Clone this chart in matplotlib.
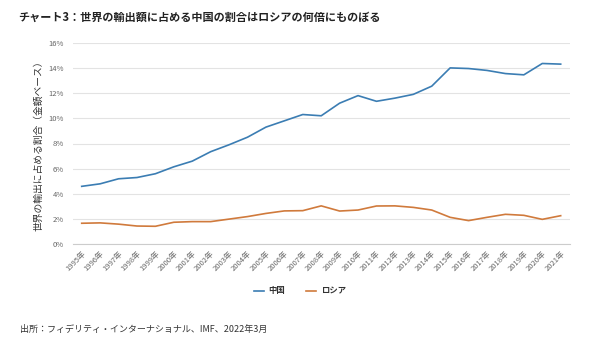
import matplotlib
matplotlib.use('Agg')
import matplotlib.pyplot as plt
import numpy as np

plt.rcParams['font.family'] = ['Noto Sans CJK JP', 'DejaVu Sans']

years = [f'{y}年' for y in range(1995, 2022)]
china = [4.6, 4.8, 5.2, 5.3, 5.6, 6.15, 6.6, 7.35, 7.9, 8.5, 9.3, 9.8, 10.3, 10.2,
         11.2, 11.8, 11.35, 11.6, 11.9, 12.55, 14.0, 13.95, 13.8, 13.55, 13.45, 14.35, 14.3]
russia = [1.67, 1.7, 1.6, 1.45, 1.43, 1.75, 1.8, 1.8, 2.0, 2.2, 2.45, 2.65, 2.67, 3.05,
          2.64, 2.72, 3.04, 3.05, 2.93, 2.72, 2.14, 1.88, 2.14, 2.38, 2.3, 1.98, 2.27]
yticks = [0, 2, 4, 6, 8, 10, 12, 14, 16]

fig = plt.figure(figsize=(5.9, 3.51), dpi=100)
ax = fig.add_axes([72.5 / 590, 1 - 244.3 / 351, (569.9 - 72.5) / 590, (244.3 - 42.7) / 351])

x = np.arange(len(years))
ax.plot(x, china, color='#3b7db3', lw=1.2, label='中国')
ax.plot(x, russia, color='#d07a3c', lw=1.2, label='ロシア')

ax.set_xlim(-0.5, len(years) - 0.5)
ax.set_ylim(0, 16)
ax.set_yticks(yticks)
ax.set_yticklabels([f'{v}%' for v in yticks])
ax.set_xticks(x)
ax.set_xticklabels(years, rotation=45, ha='right', rotation_mode='anchor')
ax.tick_params(axis='both', length=0, labelsize=5.5, labelcolor='#666666')
ax.tick_params(axis='y', pad=6)
ax.tick_params(axis='x', pad=4)
ax.grid(axis='y', color='#e3e3e3', lw=0.8)
ax.set_axisbelow(True)
for s in ['top', 'right', 'left']:
    ax.spines[s].set_visible(False)
ax.spines['bottom'].set_color('#cccccc')
ax.spines['bottom'].set_linewidth(0.8)

ax.set_ylabel('世界の輸出に占める割合（金額ベース）', fontsize=7, color='#333333', labelpad=4)

fig.text(18 / 590, 1 - 17 / 351, 'チャート3：世界の輸出額に占める中国の割合はロシアの何倍にものぼる',
         fontsize=8, fontweight='bold', va='center', ha='left', color='#222222')

leg = fig.legend(loc='center', bbox_to_anchor=(300 / 590, 1 - 291 / 351), ncol=2, frameon=False,
                 fontsize=6, handlelength=1.2, columnspacing=2.5, handletextpad=0.6)
for t in leg.get_texts():
    t.set_fontweight('bold')
    t.set_color('#333333')

fig.text(20 / 590, 1 - 329 / 351, '出所：フィデリティ・インターナショナル、IMF、2022年3月',
         fontsize=6.5, va='center', ha='left', color='#333333')

fig.savefig('out.png', dpi=100)
